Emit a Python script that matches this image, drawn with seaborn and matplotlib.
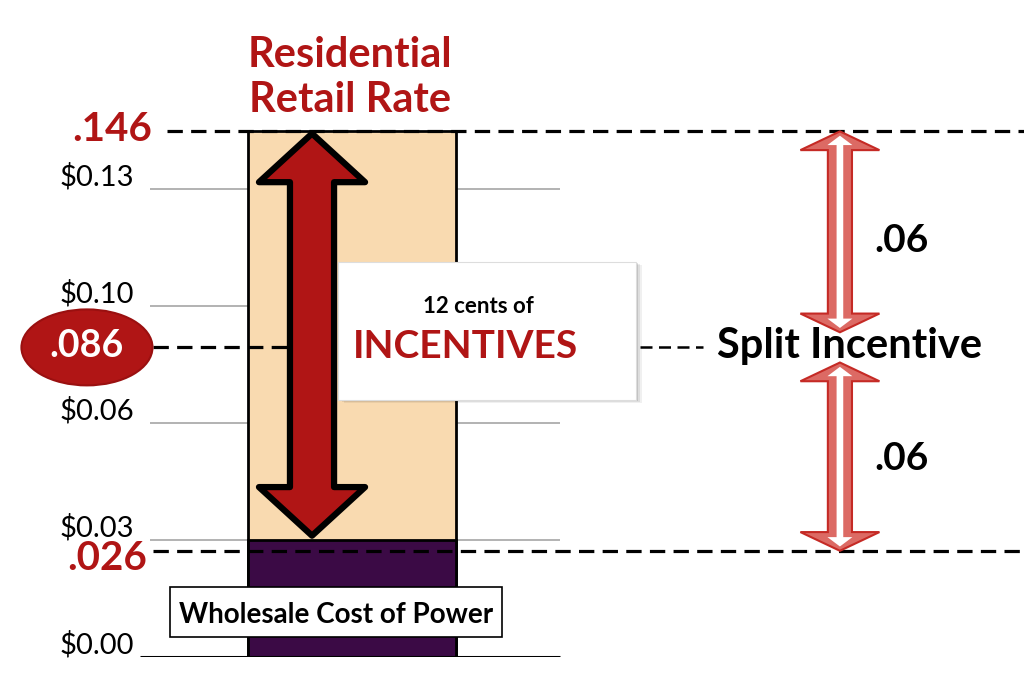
import matplotlib
matplotlib.use("Agg")
import matplotlib.pyplot as plt
import matplotlib.transforms as mtransforms
from matplotlib.patches import Polygon, Rectangle, Ellipse
import seaborn as sns

# Dados
categoria = ["Rate"]
retail_rate = [0.146]          # tarifa residencial
wholesale_bar = [0.0325]       # custo de atacado (altura desenhada)
split_point = 0.086            # ponto de divisao do incentivo
wholesale_line = 0.0295        # linha tracejada ".026"
tick_values = [0.0, 0.0325, 0.065, 0.0975, 0.13]
tick_labels = ["$0.00", "$0.03", "$0.06", "$0.10", "$0.13"]
half_labels = [".06", ".06"]

PEACH = "#f9dab0"
PURPLE = "#3b0a45"
RED = "#b01515"
DASH = (0, (4.8, 2.6))


def double_arrow(ax, x, y0, y1, shw, hhw, hl, **kw):
    # seta dupla vertical, y0 = ponta de baixo, y1 = ponta de cima
    pts = [(x - shw, y0 + hl), (x - hhw, y0 + hl), (x, y0), (x + hhw, y0 + hl),
           (x + shw, y0 + hl), (x + shw, y1 - hl), (x + hhw, y1 - hl), (x, y1),
           (x - hhw, y1 - hl), (x - shw, y1 - hl)]
    p = Polygon(pts, closed=True, **kw)
    ax.add_patch(p)
    return p


sns.set_style("white")
plt.rcParams["font.family"] = ["Lato", "DejaVu Sans"]

fig = plt.figure(figsize=(10.24, 6.94), dpi=100)
ax = fig.add_axes([140 / 1024, 37 / 694, 884 / 1024, 657 / 694])

# Barras
sns.barplot(x=categoria, y=retail_rate, color=PEACH, edgecolor="black",
            linewidth=2, width=1, saturation=1, ax=ax, zorder=2)
sns.barplot(x=categoria, y=wholesale_bar, color=PURPLE, edgecolor="black",
            linewidth=2, width=1, saturation=1, ax=ax, zorder=2)

ax.set_xlim(-1.019, 3.231)
ax.set_ylim(0, 0.1825)
ax.set_xlabel("")
ax.set_ylabel("")
ax.set_xticks([])
for s in ax.spines.values():
    s.set_visible(False)

# Grade e eixo
ax.hlines(tick_values[1:], -0.971, 1.0, color="#a6a6a6", lw=1.2, zorder=1)
ax.hlines(0, -1.019, 1.0, color="black", lw=2.2, zorder=3)
ax.set_yticks(tick_values)
ax.set_yticklabels(tick_labels, fontsize=21, color="black")
ax.tick_params(axis="y", length=0, pad=4, labelcolor="black")
off = mtransforms.ScaledTranslation(0, 15 / 100, fig.dpi_scale_trans)
for lab in ax.get_yticklabels():
    lab.set_transform(lab.get_transform() + off)

# Linhas tracejadas
ax.hlines(retail_rate[0], -0.889, 3.231, color="black", lw=2.3, linestyle=DASH, zorder=4)
ax.hlines(wholesale_line, -0.957, 3.231, color="black", lw=2.3, linestyle=DASH, zorder=4)
ax.hlines(split_point, -0.957, 0.5, color="black", lw=2.3, linestyle=DASH, zorder=4)
ax.hlines(split_point, 1.385, 1.69, color="black", lw=1.8, linestyle=DASH, zorder=4)

# Seta grande vermelha
double_arrow(ax, -0.192, wholesale_bar[0] + 0.0012, retail_rate[0] - 0.0006,
             0.106, 0.255, 0.0135, facecolor=RED, edgecolor="black",
             lw=4.5, joinstyle="round", zorder=5)

# Setas do incentivo dividido
gap = 0.0042
for y0, y1 in [(split_point + gap, retail_rate[0]), (wholesale_line, split_point - gap)]:
    double_arrow(ax, 2.346, y0, y1, 0.058, 0.19, 0.0052, facecolor="#dc6a64",
                 edgecolor="#c52a25", lw=1.5, zorder=5)
    double_arrow(ax, 2.346, y0 + 0.0012, y1 - 0.0012, 0.016, 0.06, 0.0026,
                 facecolor="white", edgecolor="none", zorder=6)

# Textos
ax.text(-0.01, 0.1639, "Residential", ha="center", va="baseline", fontsize=30,
        fontweight="bold", color=RED)
ax.text(-0.01, 0.1514, "Retail Rate", ha="center", va="baseline", fontsize=30,
        fontweight="bold", color=RED)
ax.text(-0.962, 0.1433, ".146", ha="right", va="baseline", fontsize=29,
        fontweight="bold", color=RED, clip_on=False)
ax.text(-0.986, 0.0242, ".026", ha="right", va="baseline", fontsize=29,
        fontweight="bold", color=RED, clip_on=False)

ax.add_patch(Ellipse((-1.274, split_point), 0.63, 0.0211, facecolor=RED,
                     edgecolor="#9a1010", lw=1.5, clip_on=False, zorder=6))
ax.text(-1.274, 0.0833, ".086", ha="center", va="baseline", fontsize=27,
        fontweight="bold", color="white", clip_on=False, zorder=7)

# Caixa de incentivos com sombra
bx0, bx1, by0, by1 = -0.067, 1.365, 0.0714, 0.1097
for i, a in enumerate([0.06, 0.08, 0.12]):
    d = 0.03 - i * 0.01
    ax.add_patch(Rectangle((bx0 + d, by0 - d * 0.028), bx1 - bx0, by1 - by0,
                           facecolor="black", edgecolor="none", alpha=a, zorder=6))
ax.add_patch(Rectangle((bx0, by0), bx1 - bx0, by1 - by0, facecolor="white",
                       edgecolor="#dddddd", lw=0.8, zorder=7))
ax.text(0.606, 0.0956, "12 cents of", ha="center", va="baseline", fontsize=16,
        fontweight="bold", color="black", zorder=8)
ax.text(0.548, 0.0831, "INCENTIVES", ha="center", va="baseline", fontsize=28,
        fontweight="bold", color=RED, zorder=8)

ax.text(1.755, 0.0831, "Split Incentive", ha="left", va="baseline", fontsize=30,
        fontweight="bold", color="black", zorder=8)
ax.text(2.644, 0.1125, half_labels[0], ha="center", va="baseline", fontsize=28,
        fontweight="bold", color="black")
ax.text(2.644, 0.0520, half_labels[1], ha="center", va="baseline", fontsize=28,
        fontweight="bold", color="black")

# Caixa do custo de atacado
ax.add_patch(Rectangle((-0.875, 0.0056), 1.596, 0.0138, facecolor="white",
                       edgecolor="black", lw=1.2, zorder=7))
ax.text(-0.077, 0.0094, "Wholesale Cost of Power", ha="center", va="baseline",
        fontsize=20, fontweight="bold", color="black", zorder=8)

plt.savefig("out.png", dpi=100)
